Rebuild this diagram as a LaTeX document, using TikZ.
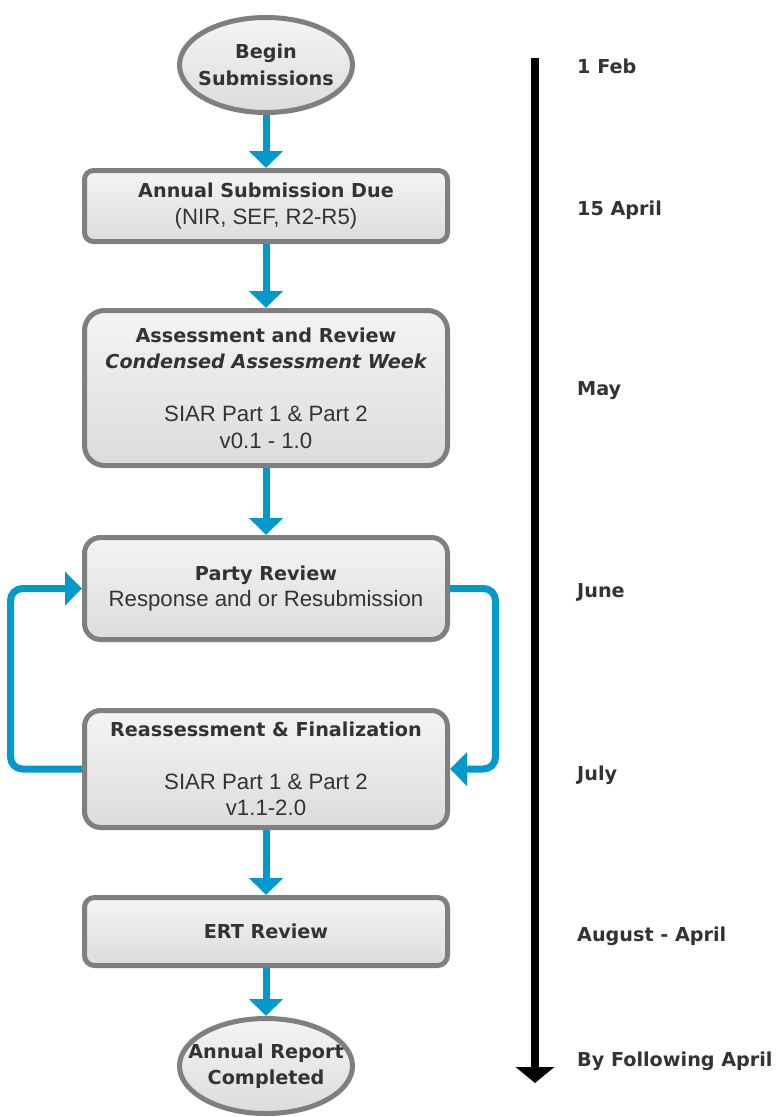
\documentclass[tikz,border=0pt]{standalone}
\usepackage{fontspec}
\setmainfont{DejaVu Sans}
\newfontfamily\regfont{Liberation Sans}
\usetikzlibrary{shapes.geometric,arrows.meta}
\definecolor{flowblue}{HTML}{0099CC}
\definecolor{edgegray}{HTML}{7F7F7F}
\definecolor{txtgray}{HTML}{333333}
\definecolor{filltop}{HTML}{F4F4F4}
\definecolor{fillbot}{HTML}{DCDCDC}
\newcommand\rgl[1]{{\regfont\mdseries\fontsize{22.2}{26.5}\selectfont #1}}
\begin{document}
\begin{tikzpicture}[x=1pt,y=-1pt,
  box/.style={draw=edgegray, line width=5pt, rounded corners=10pt,
    top color=filltop, bottom color=fillbot, minimum width=363pt,
    text=txtgray, align=center, inner sep=0pt,
    font=\fontsize{19.2}{26.5}\selectfont\bfseries},
  term/.style={ellipse, draw=edgegray, line width=5pt,
    top color=filltop, bottom color=fillbot,
    minimum width=173pt, minimum height=95pt, inner sep=0pt,
    align=center, text=txtgray,
    font=\fontsize{19.2}{26.5}\selectfont\bfseries},
  flow/.style={draw=flowblue, line width=7pt, -{Triangle[length=17pt,width=33pt]}},
  loopflow/.style={flow, rounded corners=12pt},
  timeline/.style={draw=black, line width=8pt, -{Triangle[length=16pt,width=38pt]}},
  datelabel/.style={anchor=base west, text=txtgray, inner sep=0pt,
    font=\fontsize{19.2}{23}\selectfont\bfseries}]
\fill[white] (0,0) rectangle (780,1117);
\useasboundingbox (0,0) rectangle (780,1117);

\node[term] (begin) at (266,65) {\makebox[0pt]{Begin}\\\makebox[0pt]{Submissions}};
\node[box, minimum height=71pt, rounded corners=9pt] (due) at (266,206)
  {Annual Submission Due\\\rgl{(NIR, SEF, R2-R5)}};
\node[box, minimum height=155pt, rounded corners=20pt] (assess) at (266,388)
  {Assessment and Review\\{\itshape Condensed Assessment Week}\\[26.5pt]\rgl{SIAR Part 1 \& Part 2}\\\rgl{v0.1 - 1.0}};
\node[box, minimum height=102pt, rounded corners=16pt] (party) at (266,588.5)
  {Party Review\\\rgl{Response and or Resubmission}};
\node[box, minimum height=117pt, rounded corners=16pt] (reass) at (266,769)
  {Reassessment \& Finalization\\[26.5pt]\rgl{SIAR Part 1 \& Part 2}\\\rgl{v1.1-2.0}};
\node[box, minimum height=68pt, rounded corners=10pt] (ert) at (266,931.5) {ERT Review};
\node[term] (done) at (266,1066) {\makebox[0pt]{Annual Report}\\\makebox[0pt]{Completed}};

\draw[flow] (begin) -- (due);
\draw[flow] (due) -- (assess);
\draw[flow] (assess) -- (party);
\draw[flow] (reass) -- (ert);
\draw[flow] (ert) -- (done);
\draw[loopflow] (reass.west) -- ++(-71.5,0) |- (party.west);
\draw[loopflow] (party.east) -- ++(45.5,0) |- (reass.east);

\coordinate (tltop) at (535,58);
\coordinate (tlend) at (535,1083);
\draw[timeline] (tltop) -- (tlend);

\node[datelabel] (d1) at (577,73) {1 Feb};
\node[datelabel] (d2) at (577,215) {15 April};
\node[datelabel] (d3) at (577,395) {May};
\node[datelabel] (d4) at (577,597) {June};
\node[datelabel] (d5) at (577,780) {July};
\node[datelabel] (d6) at (577,941) {August - April};
\node[datelabel] (d7) at (577,1066) {By Following April};
\end{tikzpicture}
\end{document}
